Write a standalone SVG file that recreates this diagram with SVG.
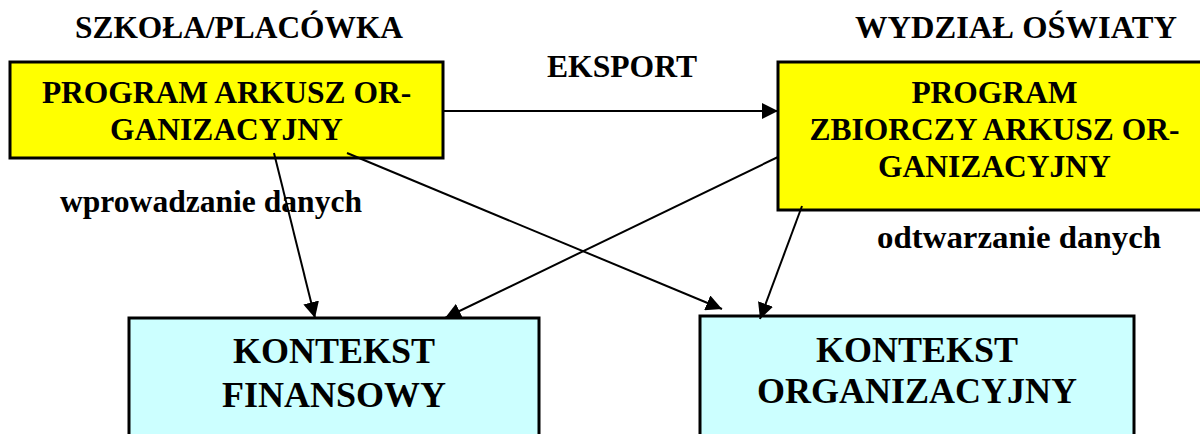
<svg xmlns="http://www.w3.org/2000/svg" width="1200" height="434" viewBox="0 0 1200 434">
  <style>
    text { font-family: "Liberation Serif", "Times New Roman", serif; font-weight: bold; fill: #000; text-anchor: middle; }
    .lbl { font-size: 32px; }
    .box { font-size: 31.5px; }
    .big { font-size: 36px; }
    .yellow { fill: #FFFF00; stroke: #000; stroke-width: 3; }
    .cyan { fill: #CCFFFF; stroke: #000; stroke-width: 3; }
    .conn { stroke: #000; stroke-width: 2; fill: none; marker-end: url(#arrow); }
  </style>
  <defs>
    <marker id="arrow" markerUnits="userSpaceOnUse" markerWidth="17" markerHeight="16" refX="16" refY="8" orient="auto">
      <path d="M0,0 L16,8 L0,16 z" fill="#000"/>
    </marker>
  </defs>
  <rect width="1200" height="434" fill="#fff"/>

  <g id="labels">
    <text class="lbl" x="239" y="38" textLength="328" lengthAdjust="spacingAndGlyphs">SZKOŁA/PLACÓWKA</text>
    <text class="lbl" x="1016" y="38" textLength="322" lengthAdjust="spacingAndGlyphs">WYDZIAŁ OŚWIATY</text>
    <text class="lbl" x="622" y="77" textLength="150" lengthAdjust="spacingAndGlyphs">EKSPORT</text>
    <text class="lbl" x="211" y="212" textLength="302" lengthAdjust="spacingAndGlyphs">wprowadzanie danych</text>
    <text class="lbl" x="1019" y="248" textLength="284" lengthAdjust="spacingAndGlyphs">odtwarzanie danych</text>
  </g>

  <g id="node-arkusz">
    <rect class="yellow" x="10" y="62" width="433" height="96"/>
    <text class="box" x="226.5" y="103">PROGRAM ARKUSZ OR-</text>
    <text class="box" x="226.5" y="140">GANIZACYJNY</text>
  </g>

  <g id="node-zbiorczy">
    <rect class="yellow" x="778" y="62" width="440" height="148"/>
    <text class="box" x="994.5" y="103">PROGRAM</text>
    <text class="box" x="994.5" y="140">ZBIORCZY ARKUSZ OR-</text>
    <text class="box" x="994.5" y="177">GANIZACYJNY</text>
  </g>

  <g id="node-finansowy">
    <rect class="cyan" x="129" y="318" width="410" height="140"/>
    <text class="big" x="334" y="363">KONTEKST</text>
    <text class="big" x="334" y="407">FINANSOWY</text>
  </g>

  <g id="node-organizacyjny">
    <rect class="cyan" x="700" y="316" width="434" height="140"/>
    <text class="big" x="917" y="362">KONTEKST</text>
    <text class="big" x="917" y="403">ORGANIZACYJNY</text>
  </g>

  <g id="connectors">
    <line class="conn" x1="443" y1="111" x2="778" y2="111"/>
    <line class="conn" x1="274" y1="153" x2="315" y2="318"/>
    <line class="conn" x1="347" y1="153" x2="722" y2="309"/>
    <line class="conn" x1="778" y1="157" x2="445" y2="318"/>
    <line class="conn" x1="802" y1="206" x2="760" y2="319"/>
  </g>
</svg>
